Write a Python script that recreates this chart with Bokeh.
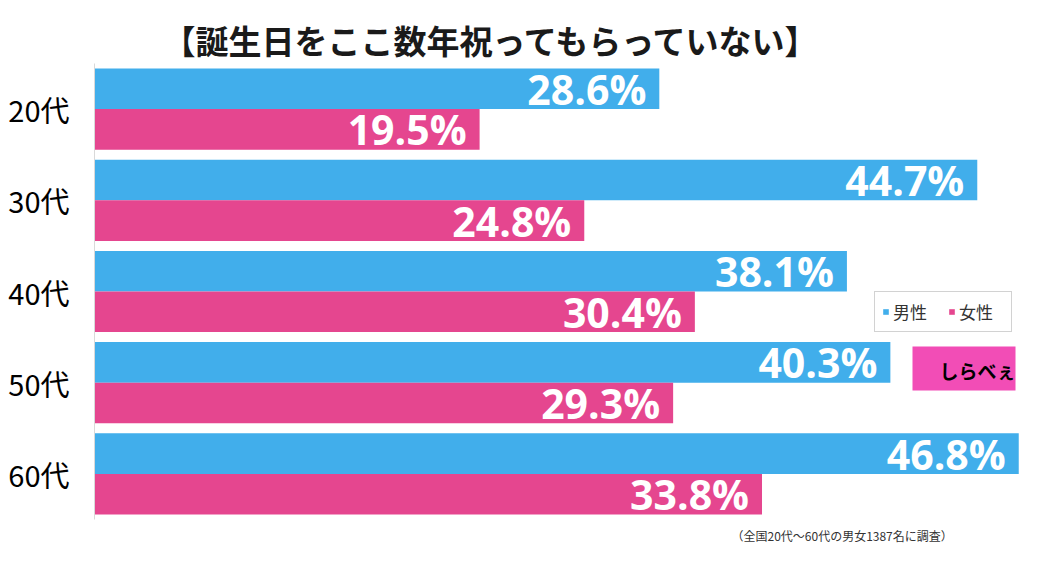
from bokeh.plotting import figure
from bokeh.models import Range1d, FactorRange, ColumnDataSource, Legend, LegendItem, Label, Title
from bokeh.transform import dodge
from bokeh.core.properties import value
from bokeh.embed import file_html
from bokeh.resources import INLINE

title_text = "【誕生日をここ数年祝ってもらっていない】"
categories = ["20代", "30代", "40代", "50代", "60代"]
male = [28.6, 44.7, 38.1, 40.3, 46.8]
female = [19.5, 24.8, 30.4, 29.3, 33.8]
series_names = ["男性", "女性"]
note_text = "（全国20代～60代の男女1387名に調査）"
logo_text = "しらべぇ"

BLUE = "#41AEEB"
PINK = "#E5468F"
JP = "Noto Sans CJK JP"

src = ColumnDataSource(dict(
    cat=categories,
    male=male,
    female=female,
    male_lbl=[f"{v}%" for v in male],
    female_lbl=[f"{v}%" for v in female],
))

p = figure(width=1047, height=549,
           y_range=FactorRange(factors=list(reversed(categories)), range_padding=0),
           x_range=Range1d(0, 47.75),
           output_backend="svg", toolbar_location=None,
           min_border_left=94, min_border_right=10, min_border_top=63, min_border_bottom=30,
           x_axis_location=None)

bh = 0.445
r1 = p.hbar(y=dodge("cat", bh / 2, range=p.y_range), left=0, right="male", height=bh,
            fill_color=BLUE, line_color=None, source=src)
r2 = p.hbar(y=dodge("cat", -bh / 2, range=p.y_range), left=0, right="female", height=bh,
            fill_color=PINK, line_color=None, source=src)

for col, lbl, off in (("male", "male_lbl", bh / 2), ("female", "female_lbl", -bh / 2)):
    p.text(x=col, y=dodge("cat", off, range=p.y_range), text=lbl, source=src,
           x_offset=-13, text_align="right", text_baseline="middle",
           text_font=value("Open Sans"), text_font_style="bold",
           text_font_size="41px", text_color="white")

p.title.text = title_text
p.title.text_font = JP
p.title.text_font_size = "33px"
p.title.text_font_style = "bold"
p.title.text_color = "#1a1a1a"
p.title.offset = 68
p.title.vertical_align = "bottom"
p.title.standoff = 0

ax = p.yaxis[0]
ax.axis_line_color = "#D9D9D9"
ax.major_tick_line_color = None
ax.minor_tick_line_color = None
ax.major_label_text_font = JP
ax.major_label_text_font_size = "29px"
ax.major_label_text_color = "black"
ax.major_label_standoff = 19

p.xgrid.visible = False
p.ygrid.visible = False
p.outline_line_color = None

legend = Legend(items=[LegendItem(label=series_names[0], renderers=[r1]),
                       LegendItem(label=series_names[1], renderers=[r2])],
                orientation="horizontal", location=(780, 187),
                padding=7, margin=0, spacing=10, label_width=45, label_standoff=4,
                glyph_width=7, glyph_height=7, label_height=19,
                label_text_font=JP, label_text_font_size="17px", label_text_color="#333333",
                border_line_color="#A6A6A6", border_line_width=1,
                background_fill_color="white", background_fill_alpha=1)
p.add_layout(legend, "center")

logo = Label(x=818, y=129, x_units="screen", y_units="screen", text=logo_text,
             text_font=JP, text_font_size="19px", text_font_style="bold", text_color="black",
             background_fill_color="#F24DB6", padding=(27, 0, 10, 7))
p.add_layout(logo)

note = Title(text=note_text, align="left", offset=637, standoff=10,
             text_font=JP, text_font_size="12px", text_font_style="normal", text_color="#333333")
p.add_layout(note, "below")

open("out.html", "w").write(file_html(p, INLINE))
